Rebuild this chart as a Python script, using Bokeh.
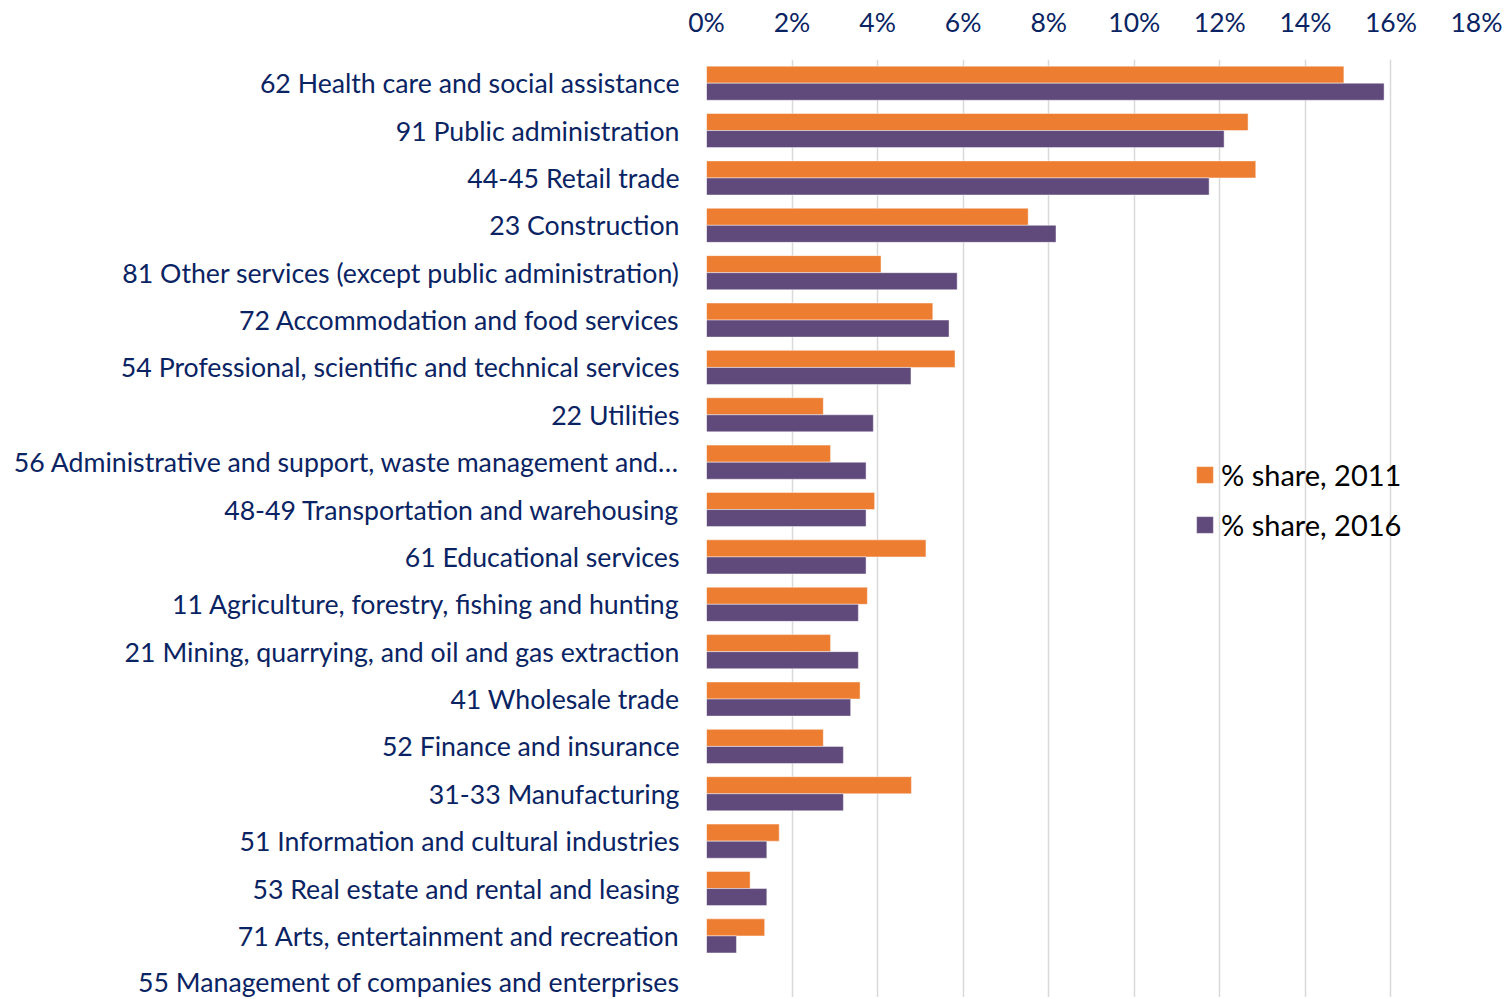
from bokeh.plotting import figure
from bokeh.models import Range1d, FixedTicker, Legend, LegendItem, ColumnDataSource
from bokeh.embed import file_html
from bokeh.resources import INLINE

categories = [
    "62 Health care and social assistance",
    "91 Public administration",
    "44-45 Retail trade",
    "23 Construction",
    "81 Other services (except public administration)",
    "72 Accommodation and food services",
    "54 Professional, scientific and technical services",
    "22 Utilities",
    "56 Administrative and support, waste management and\u2026",
    "48-49 Transportation and warehousing",
    "61 Educational services",
    "11 Agriculture, forestry, fishing and hunting",
    "21 Mining, quarrying, and oil and gas extraction",
    "41 Wholesale trade",
    "52 Finance and insurance",
    "31-33 Manufacturing",
    "51 Information and cultural industries",
    "53 Real estate and rental and leasing",
    "71 Arts, entertainment and recreation",
    "55 Management of companies and enterprises",
]
share_2011 = [14.9, 12.66, 12.84, 7.52, 4.08, 5.29, 5.81, 2.73, 2.90, 3.93,
              5.13, 3.76, 2.90, 3.59, 2.73, 4.79, 1.70, 1.02, 1.36, 0.0]
share_2016 = [15.84, 12.1, 11.75, 8.17, 5.86, 5.67, 4.78, 3.90, 3.73, 3.73,
              3.73, 3.55, 3.55, 3.37, 3.20, 3.20, 1.41, 1.41, 0.70, 0.0]
x_ticks = [0, 2, 4, 6, 8, 10, 12, 14, 16, 18]

idx = list(range(len(categories)))
BAR_H = 0.36
src11 = ColumnDataSource(dict(y=[i - BAR_H / 2 for i in idx], v=share_2011))
src16 = ColumnDataSource(dict(y=[i + BAR_H / 2 for i in idx], v=share_2016))

TEXT_COL = "#0A2463"
FONT = "Lato"

p = figure(width=1502, height=997, output_backend="svg", toolbar_location=None,
           x_range=Range1d(0, 18), y_range=Range1d(len(categories) - 0.7, -0.5),
           x_axis_location="above",
           min_border_left=706, min_border_top=59, min_border_right=26, min_border_bottom=0)
p.outline_line_color = None

r11 = p.hbar(y="y", right="v", left=0, height=BAR_H, source=src11,
             fill_color="#ED7D31", line_color="white", line_alpha=0.45, line_width=1)
r16 = p.hbar(y="y", right="v", left=0, height=BAR_H, source=src16,
             fill_color="#604A7B", line_color="white", line_alpha=0.45, line_width=1)

xa = p.xaxis[0]
xa.ticker = FixedTicker(ticks=x_ticks)
xa.major_label_overrides = {t: f"{t}%" for t in x_ticks}
xa.axis_line_color = None
xa.major_tick_line_color = None
xa.minor_tick_line_color = None
xa.major_label_text_font = FONT
xa.major_label_text_font_size = "26.5px"
xa.major_label_text_color = TEXT_COL
xa.major_label_standoff = 16

ya = p.yaxis[0]
ya.ticker = FixedTicker(ticks=idx)
ya.major_label_overrides = {i: c for i, c in enumerate(categories)}
ya.axis_line_color = None
ya.major_tick_line_color = None
ya.minor_tick_line_color = None
ya.major_label_text_font = FONT
ya.major_label_text_font_size = "26.7px"
ya.major_label_text_color = TEXT_COL
ya.major_label_standoff = 21

p.xgrid.grid_line_color = "#D9D9D9"
p.xgrid.grid_line_width = 1.5
p.xgrid.ticker = FixedTicker(ticks=x_ticks)
p.ygrid.grid_line_color = None

legend = Legend(items=[LegendItem(label="% share, 2011", renderers=[r11]),
                       LegendItem(label="% share, 2016", renderers=[r16])],
                location=(488, 455), orientation="vertical",
                glyph_width=21, glyph_height=21, label_standoff=6, spacing=15,
                padding=0, margin=0,
                label_text_font=FONT, label_text_font_size="29px", label_text_color="black",
                background_fill_alpha=0, border_line_alpha=0)
p.add_layout(legend)

open("out.html", "w").write(file_html(p, INLINE))
